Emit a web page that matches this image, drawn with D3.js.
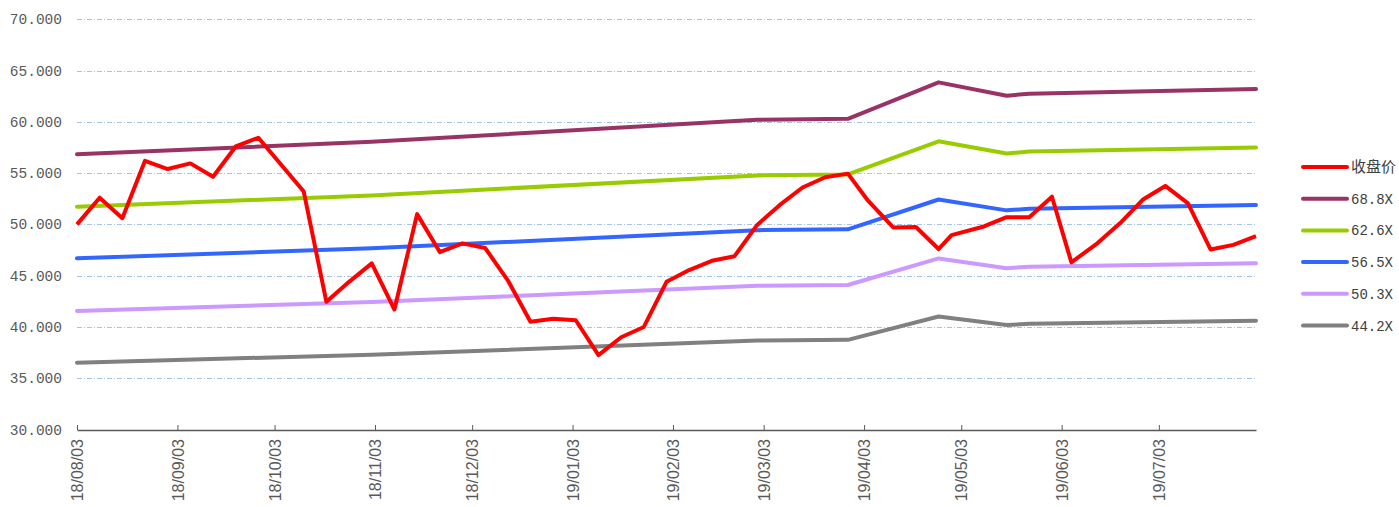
<!DOCTYPE html>
<html lang="zh">
<head>
<meta charset="utf-8">
<script src="https://d3js.org/d3.v7.min.js"></script>
<style>
  body { margin: 0; background: #fff; }
</style>
</head>
<body>
<svg id="myGraph" width="1399" height="507"></svg>
<script>
// 收盘价 weekly dates & values
var priceDates = ["18/08/03","18/08/10","18/08/17","18/08/24","18/08/31","18/09/07","18/09/14","18/09/21","18/09/28",
  "18/10/12","18/10/19","18/10/26","18/11/02","18/11/09","18/11/16","18/11/23","18/11/30","18/12/07","18/12/14",
  "18/12/21","18/12/28","19/01/04","19/01/11","19/01/18","19/01/25","19/02/01","19/02/08","19/02/15","19/02/22",
  "19/03/01","19/03/08","19/03/15","19/03/22","19/03/29","19/04/04","19/04/12","19/04/19","19/04/26","19/04/30",
  "19/05/10","19/05/17","19/05/24","19/05/31","19/06/06","19/06/14","19/06/21","19/06/28","19/07/05","19/07/12",
  "19/07/19","19/07/26","19/08/02"];
var priceValues = [50.0,52.6,50.6,56.2,55.4,55.95,54.65,57.6,58.45,
  53.2,42.45,44.4,46.2,41.7,51.0,47.3,48.15,47.7,44.55,
  40.5,40.8,40.65,37.25,39.0,40.0,44.4,45.55,46.45,46.9,
  49.95,51.9,53.6,54.6,54.95,52.4,49.7,49.75,47.6,48.95,
  49.8,50.7,50.7,52.7,46.3,48.15,50.1,52.4,53.75,52.05,
  47.55,48.0,48.85];

// PE band lines (break dates)
var bandDates = ["18/08/03","18/11/02","19/03/01","19/03/29","19/04/26","19/05/17","19/05/24","19/08/02"];
var pe688 = [56.85,58.05,60.2,60.3,63.85,62.55,62.75,63.2];
var pe626 = [51.73,52.82,54.78,54.87,58.10,56.92,57.10,57.51];
var pe565 = [46.69,47.67,49.44,49.52,52.43,51.37,51.53,51.90];
var pe503 = [41.56,42.44,44.01,44.09,46.68,45.73,45.88,46.21];
var pe442 = [36.52,37.29,38.67,38.74,41.02,40.18,40.31,40.60];

var seriesNames = ["收盘价","68.8X","62.6X","56.5X","50.3X","44.2X"];
var seriesColors = ["#ff0000","#993366","#99cc00","#3366ff","#cc99ff","#808080"];

var xTickLabels = ["18/08/03","18/09/03","18/10/03","18/11/03","18/12/03","19/01/03","19/02/03",
  "19/03/03","19/04/03","19/05/03","19/06/03","19/07/03"];
var yTicks = [30,35,40,45,50,55,60,65,70];

var parse = d3.timeParse("%y/%m/%d");
var svg = d3.select("#myGraph");

var xScale = d3.scaleTime()
  .domain([parse("18/08/03"), parse("19/08/02")])
  .range([77, 1256]);
var yScale = d3.scaleLinear()
  .domain([30, 70])
  .range([429.5, 19.3]);

// grid lines
svg.append("g").selectAll("line")
  .data(yTicks.filter(d => d > 30))
  .enter()
  .append("line")
  .attr("x1", 77).attr("x2", 1256)
  .attr("y1", d => Math.round(yScale(d)) + 0.5)
  .attr("y2", d => Math.round(yScale(d)) + 0.5)
  .attr("stroke", "#a6c4ea")
  .attr("stroke-width", 1)
  .attr("stroke-dasharray", "5,2,1,2");

// y labels
svg.append("g").selectAll("text")
  .data(yTicks)
  .enter()
  .append("text")
  .attr("x", 62)
  .attr("y", d => yScale(d) + 5)
  .attr("text-anchor", "end")
  .style("font-family", "'Liberation Mono', monospace")
  .style("font-size", "14.5px")
  .style("fill", "#595959")
  .text(d => d3.format(".3f")(d));

// x axis
var xAxis = d3.axisBottom(xScale)
  .tickValues(xTickLabels.map(parse))
  .tickSizeInner(-5)
  .tickSizeOuter(0)
  .tickFormat(d3.timeFormat("%y/%m/%d"));
var xAxisG = svg.append("g")
  .attr("transform", "translate(0," + Math.round(yScale(30)) + ")")
  .call(xAxis);
xAxisG.select(".domain").attr("stroke", "#595959").attr("stroke-width", 1.3);
xAxisG.selectAll(".tick line").attr("stroke", "#595959");
xAxisG.selectAll(".tick text")
  .attr("transform", "rotate(-90)")
  .attr("x", -9)
  .attr("y", 0)
  .attr("dy", "0.35em")
  .attr("text-anchor", "end")
  .style("font-family", "'Liberation Sans', Arial, sans-serif")
  .style("font-size", "16px")
  .style("fill", "#595959");

var lineGenerator = d3.line()
  .x(d => xScale(d.date))
  .y(d => yScale(d.value));

function toPoints(dates, values) {
  return dates.map((d, i) => ({ date: parse(d), value: values[i] }));
}

var bands = [pe688, pe626, pe565, pe503, pe442];
bands.forEach(function(vals, i) {
  svg.append("path")
    .attr("d", lineGenerator(toPoints(bandDates, vals)))
    .attr("fill", "none")
    .attr("stroke-width", 4)
    .attr("stroke-linejoin", "round")
    .attr("stroke-linecap", "round")
    .attr("stroke", seriesColors[i + 1]);
});

svg.append("path")
  .attr("d", lineGenerator(toPoints(priceDates, priceValues)))
  .attr("fill", "none")
  .attr("stroke-width", 4)
  .attr("stroke-linejoin", "round")
  .attr("stroke", seriesColors[0]);

// legend
var legend = svg.append("g").attr("transform", "translate(1303,167)");
seriesNames.forEach(function(name, i) {
  var row = legend.append("g").attr("transform", "translate(0," + (i * 31.7) + ")");
  row.append("line")
    .attr("x1", 0).attr("x2", 44)
    .attr("stroke", seriesColors[i])
    .attr("stroke-width", 4)
    .attr("stroke-linecap", "round");
  row.append("text")
    .attr("x", 48)
    .attr("y", 5)
    .style("font-family", i == 0 ? "'Noto Sans CJK SC', sans-serif" : "'Liberation Mono', monospace")
    .style("font-size", i == 0 ? "15px" : "14px")
    .style("fill", "#404040")
    .text(name);
});
</script>
</body>
</html>
